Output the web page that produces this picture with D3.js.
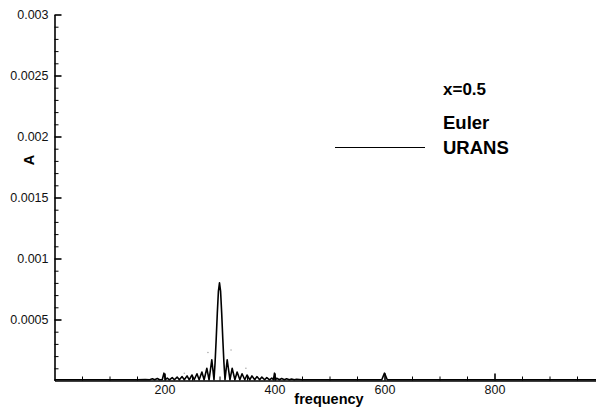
<!DOCTYPE html>
<html>
<head>
<meta charset="utf-8">
<script src="https://cdn.jsdelivr.net/npm/d3@7"></script>
<style>
  html, body { margin: 0; padding: 0; background: #fff; }
  svg { display: block; }
  text { font-family: "Liberation Sans", Arial, sans-serif; }
</style>
</head>
<body>
<svg id="chart" width="596" height="408"></svg>
<script>
// Amplitude spectrum at x = 0.5 (frequency vs. A)

// URANS spectrum: frequency samples and amplitudes
const uransFreq = [
  0, 50, 100, 150, 165, 173, 178, 182, 187, 191, 196, 199, 202, 205, 209, 214, 218,
  223, 227, 232, 236, 241, 245, 250, 254, 259, 263, 268, 272, 277, 281, 286, 290,
  292, 294, 296, 298, 300, 302, 304, 306, 308, 310,
  314, 319, 323, 328, 332, 337, 341, 346, 350, 355, 359, 364, 368, 373, 377, 382,
  386, 391, 395, 398, 400, 402, 404, 409, 413, 418, 422, 427, 431, 436, 440, 450,
  500, 550, 590, 595, 600, 605, 610, 700, 800, 900, 985
];
const uransA = [
  0.000006, 0.000006, 0.000006, 0.000006, 0.000008, 0.000006, 0.000014, 0.000006,
  0.000016, 0.000006, 0.000008, 0.00006, 0.000008, 0.00002, 0.000006, 0.000024, 0.000006,
  0.000028, 0.000006, 0.000032, 0.000006, 0.000038, 0.000006, 0.000045, 0.000006,
  0.000055, 0.000006, 0.00007, 0.000006, 0.0001, 0.000006, 0.00017, 0.000006,
  0.00015, 0.00034, 0.00055, 0.00073, 0.0008, 0.00073, 0.00055, 0.00034, 0.00015, 0.000006,
  0.00017, 0.000006, 0.0001, 0.000006, 0.00007, 0.000006, 0.000055, 0.000006,
  0.000045, 0.000006, 0.000038, 0.000006, 0.000032, 0.000006, 0.000028, 0.000006,
  0.000024, 0.000006, 0.00002, 0.000006, 0.00006, 0.000006, 0.000018, 0.000006,
  0.000016, 0.000006, 0.000014, 0.000006, 0.000012, 0.000006, 0.00001, 0.000006,
  0.000006, 0.000006, 0.000006, 0.000006, 0.00006, 0.000006, 0.000006, 0.000006,
  0.000006, 0.000006, 0.000006
];

// Euler spectrum: sparse dotted samples
const eulerFreq = [236, 279, 321, 348];
const eulerA = [0.00006, 0.00023, 0.00025, 0.0001];

// Axis ticks and labels
const xMajorTicks = [200, 400, 600, 800];
const xMinorTicks = [50, 100, 150, 250, 300, 350, 450, 500, 550, 650, 700, 750, 850, 900, 950];
const yMajorTicks = [0.0005, 0.001, 0.0015, 0.002, 0.0025, 0.003];
const yTickLabels = ["0.0005", "0.001", "0.0015", "0.002", "0.0025", "0.003"];
const yMinorTicks = [];
for (let i = 1; i < 30; i++) if (i % 5 !== 0) yMinorTicks.push(i * 0.0001);

const legendTitle = "x=0.5";
const seriesNames = ["Euler", "URANS"];

const svg = d3.select("#chart");
svg.append("rect").attr("width", 596).attr("height", 408).attr("fill", "#fff");

const x = d3.scaleLinear().domain([0, 985]).range([54.5, 596.25]);
const y = d3.scaleLinear().domain([0, 0.003]).range([380.5, 14.5]);

// Minor ticks (inward)
svg.append("g")
  .attr("transform", `translate(0,${y(0)})`)
  .call(d3.axisBottom(x).tickValues(xMinorTicks).tickSize(-4).tickSizeOuter(0).tickFormat(""))
  .call(g => g.select(".domain").remove())
  .call(g => g.selectAll("line").attr("stroke", "#000").attr("stroke-width", 1));

svg.append("g")
  .attr("transform", `translate(${x(0)},0)`)
  .call(d3.axisLeft(y).tickValues(yMinorTicks).tickSize(-4).tickSizeOuter(0).tickFormat(""))
  .call(g => g.select(".domain").remove())
  .call(g => g.selectAll("line").attr("stroke", "#000").attr("stroke-width", 1));

// Major axes
const xAxis = svg.append("g")
  .attr("transform", `translate(0,${y(0)})`)
  .call(d3.axisBottom(x).tickValues(xMajorTicks).tickSize(-7).tickSizeOuter(0)
    .tickPadding(5).tickFormat(d3.format("d")));
xAxis.select(".domain").attr("stroke", "#000").attr("stroke-width", 1.6);
xAxis.selectAll("line").attr("stroke", "#000").attr("stroke-width", 1.6);
xAxis.selectAll("text").attr("font-size", 12.5).attr("fill", "#111")
  .attr("font-family", "'Liberation Sans', Arial, sans-serif");

const yAxis = svg.append("g")
  .attr("transform", `translate(${x(0)},0)`)
  .call(d3.axisLeft(y).tickValues(yMajorTicks).tickSize(-7).tickSizeOuter(0)
    .tickPadding(6).tickFormat((d, i) => yTickLabels[i]));
yAxis.select(".domain").attr("stroke", "#000").attr("stroke-width", 1.6);
yAxis.selectAll("line").attr("stroke", "#000").attr("stroke-width", 1.6);
yAxis.selectAll("text").attr("font-size", 12.5).attr("fill", "#111")
  .attr("font-family", "'Liberation Sans', Arial, sans-serif");

// Axis titles
svg.append("text")
  .attr("x", 329).attr("y", 404)
  .attr("text-anchor", "middle")
  .attr("font-size", 14.5).attr("font-weight", "bold")
  .text("frequency");

svg.append("text")
  .attr("transform", "translate(34,160) rotate(-90)")
  .attr("text-anchor", "middle")
  .attr("font-size", 14.5).attr("font-weight", "bold")
  .text("A");

// Euler samples (faint dots)
svg.append("g")
  .selectAll("circle")
  .data(eulerFreq.map((f, i) => [f, eulerA[i]]))
  .join("circle")
  .attr("cx", d => x(d[0])).attr("cy", d => y(d[1]))
  .attr("r", 0.8).attr("fill", "#aaa");

// URANS line
const line = d3.line().x(d => x(d[0])).y(d => y(d[1]));
svg.append("path")
  .datum(uransFreq.map((f, i) => [f, uransA[i]]))
  .attr("d", line)
  .attr("fill", "none")
  .attr("stroke", "#000")
  .attr("stroke-width", 1.6)
  .attr("stroke-linejoin", "round");

// Legend
svg.append("text").attr("x", 443).attr("y", 94.5)
  .attr("font-size", 17).attr("font-weight", "bold").text(legendTitle);
svg.append("text").attr("x", 443).attr("y", 129)
  .attr("font-size", 18.5).attr("font-weight", "bold").text(seriesNames[0]);
svg.append("text").attr("x", 443).attr("y", 154)
  .attr("font-size", 18.5).attr("font-weight", "bold").text(seriesNames[1]);
svg.append("line")
  .attr("x1", 335).attr("x2", 425).attr("y1", 147.5).attr("y2", 147.5)
  .attr("stroke", "#000").attr("stroke-width", 1.2);
</script>
</body>
</html>
